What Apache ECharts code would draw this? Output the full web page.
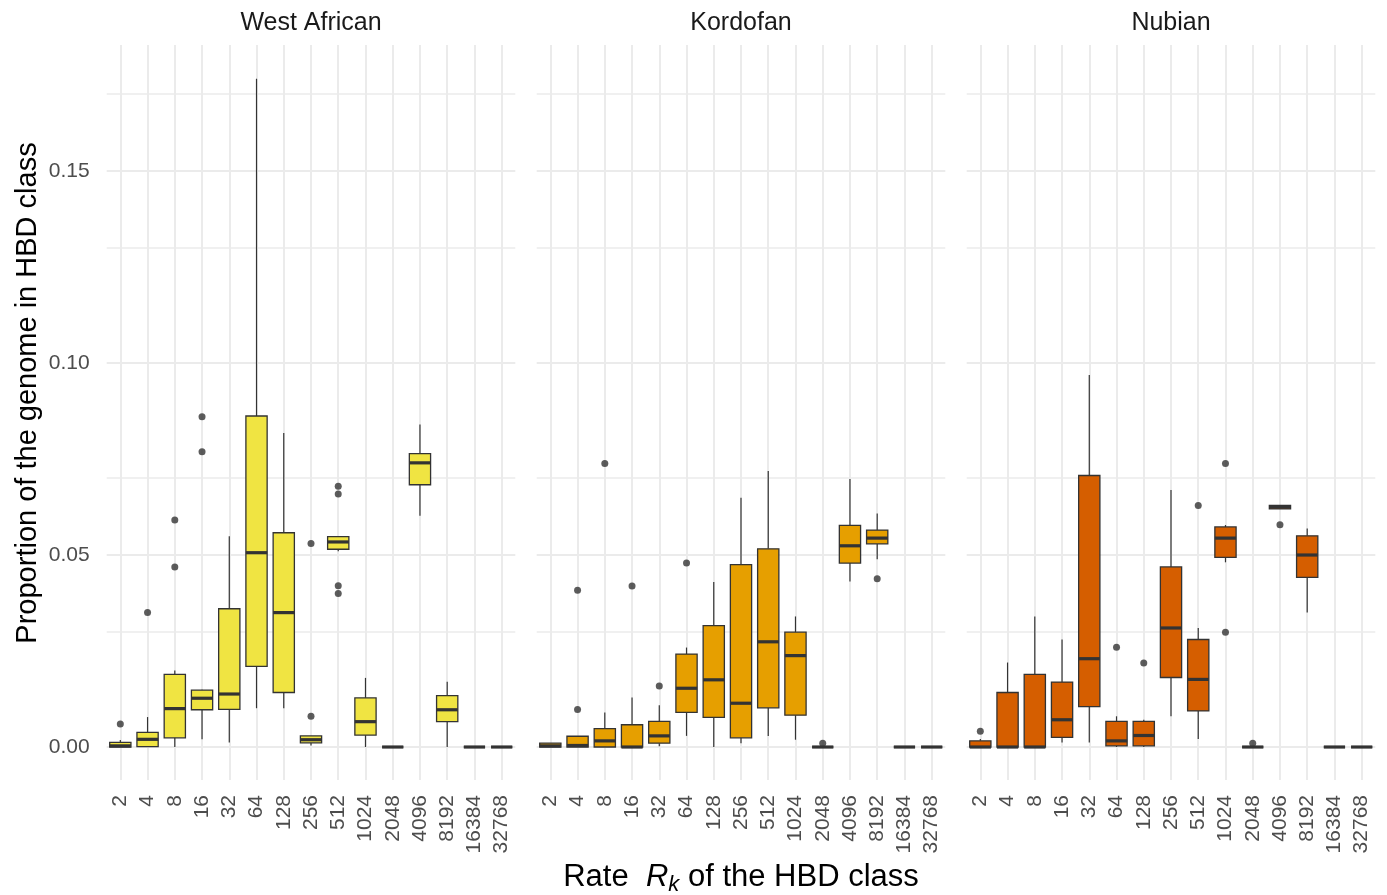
<!DOCTYPE html>
<html>
<head>
<meta charset="utf-8">
<script src="https://cdn.jsdelivr.net/npm/echarts@6/dist/echarts.min.js"></script>
<style>
html,body{margin:0;padding:0;background:#fff;}
#chart{width:1387px;height:895px;}
</style>
</head>
<body>
<div id="chart"></div>
<script>
// ---- data ----
const CATS = ['2','4','8','16','32','64','128','256','512','1024','2048','4096','8192','16384','32768'];
const PANELS = ['West African', 'Kordofan', 'Nubian'];
const COLORS = ['#F0E442', '#E69F00', '#D55E00'];
const Y_TICKS = [0, 0.05, 0.10, 0.15];
const Y_GRID = [0, 0.025, 0.05, 0.075, 0.10, 0.125, 0.15, 0.175];

// [min, Q1, median, Q3, max] per category
const waBoxes = [
  [0, 0, 0.0003, 0.0012, 0.0018],
  [0, 0.0001, 0.002, 0.0038, 0.0078],
  [0, 0.0024, 0.010, 0.0189, 0.0199],
  [0.002, 0.0097, 0.0127, 0.0148, 0.0149],
  [0.0012, 0.0098, 0.0138, 0.036, 0.0549],
  [0.0101, 0.021, 0.0506, 0.0862, 0.174],
  [0.0101, 0.0142, 0.035, 0.0558, 0.0818],
  [0.0004, 0.0011, 0.0019, 0.0029, 0.0029],
  [0.051, 0.0515, 0.0534, 0.0548, 0.0548],
  [0, 0.0031, 0.0066, 0.0128, 0.018],
  [0, 0, 0, 0, 0],
  [0.0602, 0.0683, 0.074, 0.0764, 0.084],
  [0, 0.0066, 0.0097, 0.0134, 0.017],
  [0, 0, 0, 0, 0],
  [0, 0, 0, 0, 0]
];
const koBoxes = [
  [0, 0, 0.0003, 0.001, 0.001],
  [0, 0, 0.0004, 0.0028, 0.0028],
  [0, 0, 0.0016, 0.0048, 0.009],
  [0, 0, 0, 0.0058, 0.0129],
  [0.0002, 0.001, 0.0029, 0.0067, 0.0109],
  [0.0029, 0.009, 0.0153, 0.0242, 0.0259],
  [0, 0.0077, 0.0175, 0.0316, 0.043],
  [0.001, 0.0024, 0.0114, 0.0475, 0.0649],
  [0.0029, 0.0102, 0.0274, 0.0516, 0.0719],
  [0.0019, 0.0083, 0.0238, 0.0299, 0.034],
  [0, 0, 0, 0, 0],
  [0.0431, 0.0479, 0.0524, 0.0577, 0.0698],
  [0.0489, 0.0529, 0.0544, 0.0565, 0.0608],
  [0, 0, 0, 0, 0],
  [0, 0, 0, 0, 0]
];
const nuBoxes = [
  [0, 0, 0, 0.0016, 0.0021],
  [0, 0, 0, 0.0142, 0.022],
  [0, 0, 0, 0.0189, 0.034],
  [0.0012, 0.0025, 0.0071, 0.0169, 0.028],
  [0.0012, 0.0105, 0.023, 0.0707, 0.0969],
  [0, 0.0003, 0.0016, 0.0067, 0.008],
  [0, 0.0003, 0.003, 0.0067, 0.0071],
  [0.008, 0.0181, 0.031, 0.0469, 0.0669],
  [0.0021, 0.0094, 0.0176, 0.028, 0.031],
  [0.0481, 0.0494, 0.0544, 0.0573, 0.0578],
  [0, 0, 0, 0, 0],
  [0.062, 0.062, 0.0625, 0.0629, 0.0629],
  [0.035, 0.0442, 0.05, 0.055, 0.0569],
  [0, 0, 0, 0, 0],
  [0, 0, 0, 0, 0]
];
// outliers: [category index, value]
const waOut = [[0,0.006],[1,0.035],[2,0.0591],[2,0.0469],[3,0.086],[3,0.0769],[7,0.053],[7,0.008],[8,0.0679],[8,0.0659],[8,0.042],[8,0.040]];
const koOut = [[1,0.0408],[1,0.0098],[2,0.0738],[3,0.0419],[4,0.0159],[5,0.0479],[10,0.001],[12,0.0438]];
const nuOut = [[0,0.0041],[5,0.026],[6,0.0219],[8,0.0629],[9,0.0738],[9,0.0299],[10,0.001],[11,0.0579]];

const BOXES = [waBoxes, koBoxes, nuBoxes];
const OUTS = [waOut, koOut, nuOut];

// ---- layout ----
const GRID_LEFT = [106.7, 536.7, 966.7];
const GRID_W = 408.6, GRID_TOP = 45, GRID_H = 735;
const Y_MIN = -0.00859, Y_MAX = 0.18281;
const FONT = '"Liberation Sans", Arial, sans-serif';

const chart = echarts.init(document.getElementById('chart'), null, {renderer: 'canvas'});

const grids = [], xAxes = [], yAxes = [], series = [];
for (let p = 0; p < 3; p++) {
  grids.push({left: GRID_LEFT[p], top: GRID_TOP, width: GRID_W, height: GRID_H, containLabel: false, outerBoundsMode: 'none'});
  xAxes.push({
    type: 'category', gridIndex: p, data: CATS, boundaryGap: true,
    axisLine: {show: false, onZero: false}, axisTick: {show: false}, splitLine: {show: false},
    axisLabel: {rotate: 90, margin: 15, fontSize: 21, color: '#4D4D4D', fontFamily: FONT, interval: 0}
  });
  yAxes.push({
    type: 'value', gridIndex: p, min: Y_MIN, max: Y_MAX, splitNumber: 4,
    axisLine: {show: false}, axisTick: {show: false}, splitLine: {show: false},
    axisLabel: {
      show: p === 0, margin: 17, fontSize: 21, color: '#4D4D4D', fontFamily: FONT,
      showMinLabel: true, showMaxLabel: true,
      formatter: function (v) {
        return Y_TICKS.some(t => Math.abs(t - v) < 1e-9) ? v.toFixed(2) : '';
      }
    }
  });
  // grid lines
  const ml = [];
  Y_GRID.forEach((v, i) => ml.push({yAxis: v, lineStyle: {width: (i % 2 === 0) ? 2 : 1.5}}));
  CATS.forEach((c, i) => ml.push({xAxis: i, lineStyle: {width: 2}}));
  series.push({
    type: 'line', xAxisIndex: p, yAxisIndex: p, data: [], z: 1, silent: true,
    markLine: {
      silent: true, symbol: ['none', 'none'], label: {show: false}, z: 1, animation: false,
      lineStyle: {color: '#EBEBEB', type: 'solid', width: 2},
      emphasis: {disabled: true},
      data: ml
    }
  });
  // boxes
  series.push({
    type: 'custom', xAxisIndex: p, yAxisIndex: p, z: 3,
    itemStyle: {color: COLORS[p]},
    encode: {x: 0, y: [1, 2, 3, 4, 5]},
    data: BOXES[p].map((b, i) => [i].concat(b)),
    renderItem: function (params, api) {
      const x = api.value(0);
      const pMin = api.coord([x, api.value(1)]);
      const pQ1 = api.coord([x, api.value(2)]);
      const pMed = api.coord([x, api.value(3)]);
      const pQ3 = api.coord([x, api.value(4)]);
      const pMax = api.coord([x, api.value(5)]);
      const bw = api.size([1, 0])[0] * 0.78;
      const cx = pMed[0];
      const col = api.visual('color');
      return {
        type: 'group',
        children: [
          {type: 'line', shape: {x1: cx, y1: pMax[1], x2: cx, y2: pQ3[1]}, style: {stroke: '#333333', lineWidth: 1.2}},
          {type: 'line', shape: {x1: cx, y1: pQ1[1], x2: cx, y2: pMin[1]}, style: {stroke: '#333333', lineWidth: 1.2}},
          {type: 'rect', shape: {x: cx - bw / 2, y: pQ3[1], width: bw, height: pQ1[1] - pQ3[1]}, style: {fill: col, stroke: '#333333', lineWidth: 1.3}},
          {type: 'line', shape: {x1: cx - bw / 2, y1: pMed[1], x2: cx + bw / 2, y2: pMed[1]}, style: {stroke: '#333333', lineWidth: 3.2}}
        ]
      };
    }
  });
  // outliers
  series.push({
    type: 'scatter', xAxisIndex: p, yAxisIndex: p, z: 4,
    symbol: 'circle', symbolSize: 7,
    itemStyle: {color: '#333333'},
    data: OUTS[p]
  });
}

const PANEL_CX = [311, 741, 1171];
const graphics = PANELS.map((name, p) => ({
  type: 'text', x: PANEL_CX[p], y: 23,
  style: {text: name, x: 0, y: 0, align: 'center', verticalAlign: 'middle', fontSize: 25, fill: '#1A1A1A', fontFamily: FONT}
}));
graphics.push({
  type: 'text', x: 28, y: 393, rotation: Math.PI / 2,
  style: {text: 'Proportion of the genome in HBD class', align: 'center', verticalAlign: 'middle', fontSize: 29, fill: '#000000', fontFamily: FONT}
});
graphics.push({
  type: 'text', x: 741, y: 858,
  style: {
    text: 'Rate  {i|R}{sub|k} of the HBD class',
    align: 'center', verticalAlign: 'top', fontSize: 31, lineHeight: 38, fill: '#000000', fontFamily: FONT,
    rich: {
      i: {fontSize: 31, lineHeight: 38, fontStyle: 'italic', fontFamily: FONT, fill: '#000000'},
      sub: {fontSize: 22, lineHeight: 20, fontStyle: 'italic', verticalAlign: 'bottom', fontFamily: FONT, fill: '#000000'}
    }
  }
});

chart.setOption({
  animation: false,
  backgroundColor: '#ffffff',
  grid: grids,
  xAxis: xAxes,
  yAxis: yAxes,
  series: series,
  graphic: graphics
});
</script>
</body>
</html>
